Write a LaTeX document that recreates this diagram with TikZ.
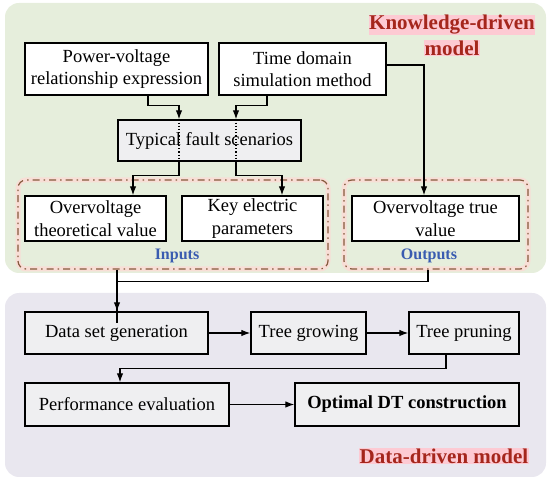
\documentclass[tikz,border=0pt]{standalone}
\usepackage{fontspec}
\setmainfont{Liberation Serif}
\usetikzlibrary{arrows.meta}

\definecolor{kgreen}{HTML}{E6EEDC}
\definecolor{dpurple}{HTML}{E9E7EF}
\definecolor{boxgrey}{HTML}{EFEFF1}
\definecolor{fbrown}{HTML}{85593C}
\definecolor{fpink}{HTML}{F8DED6}
\definecolor{tred}{HTML}{A5261C}
\definecolor{hpink}{HTML}{FDCAD3}
\definecolor{tblue}{HTML}{3A5CB0}

\tikzset{
  blk/.style={draw=black, line width=1.3pt, fill=white, inner sep=1pt,
    align=center, font=\fontsize{18.5}{22.5}\selectfont},
  frm/.style={draw=fbrown, line width=1.2pt, rounded corners=8pt,
    dash pattern=on 7pt off 4pt on 1.5pt off 4pt,
    preaction={draw=fpink, solid, line width=5pt}},
  arr/.style={-{Latex[length=9pt,width=6.5pt]}, line width=1.2pt},
  ln/.style={line width=1.2pt},
  hdr/.style={fill=hpink, text=tred, inner sep=0.5pt,
    font=\fontsize{21}{22}\selectfont\bfseries},
  tag/.style={text=tblue, font=\fontsize{16}{18}\selectfont\bfseries}
}

\begin{document}
\begin{tikzpicture}[x=1pt, y=-1pt]
    \useasboundingbox (0,0) rectangle (550,481);

    % 两个背景区域
    \fill[kgreen, rounded corners=14pt] (5,3) rectangle (546,273);
    \fill[dpurple, rounded corners=14pt] (5,293) rectangle (546,477);

    % 标题
    \node[hdr] (kdt) at (452,25) {Knowledge-driven};
    \node[hdr] (kdm) at (452,48) {model};
    \node[hdr] (ddm) at (444,456) {Data-driven model};

    % 输入输出虚线框
    \node[frm, minimum width=310, minimum height=89] (inbox) at (173,224.5) {};
    \node[frm, minimum width=184, minimum height=89] (outbox) at (436,224.5) {};
    \node[tag] (intag) at (177,256) {Inputs};
    \node[tag] (outtag) at (429,256) {Outputs};

    % 知识驱动部分的方框
    \node[blk, minimum width=183, minimum height=52] (pv) at (116.5,69)
        {Power-voltage\\relationship expression};
    \node[blk, minimum width=167, minimum height=52] (td) at (302.5,69)
        {Time domain\\simulation method};
    \node[blk, fill=boxgrey, minimum width=183, minimum height=41] (tfs) at (209.5,140.5)
        {Typical fault scenarios};
    \node[blk, minimum width=141, minimum height=45] (otv) at (95.5,218.5)
        {Overvoltage\\theoretical value};
    \node[blk, minimum width=141, minimum height=45] (kep) at (252.5,218.5)
        {Key electric\\parameters};
    \node[blk, minimum width=167, minimum height=45] (ovt) at (435.5,218.5)
        {Overvoltage true\\value};

    % 数据驱动部分的方框
    \node[blk, fill=boxgrey, minimum width=183, minimum height=42] (dsg) at (116.5,333)
        {Data set generation};
    \node[blk, fill=boxgrey, minimum width=115, minimum height=42] (tg) at (308.5,333)
        {Tree growing};
    \node[blk, fill=boxgrey, minimum width=110, minimum height=42] (tp) at (464,333)
        {Tree pruning};
    \node[blk, fill=boxgrey, minimum width=204, minimum height=43] (pe) at (127,404.5)
        {Performance evaluation};
    \node[blk, fill=boxgrey, minimum width=224, minimum height=43] (odt) at (407,404.5)
        {\bfseries Optimal DT construction};

    % 连线
    \draw[arr] ([xshift=31.5]pv.south) -- ++(0,10) -| ([xshift=-30.5]tfs.north);
    \draw[arr] ([xshift=-35.5]td.south) -- ++(0,10) -| ([xshift=26.5]tfs.north);
    \draw[ln, dotted] ([xshift=-30.5]tfs.north) -- ([xshift=-30.5]tfs.south);
    \draw[ln, dotted] ([xshift=26.5]tfs.north) -- ([xshift=26.5]tfs.south);
    \draw[arr] ([xshift=-30.5]tfs.south) -- ++(0,14) -| ([xshift=37.5]otv.north);
    \draw[arr] ([xshift=26.5]tfs.south) -- ++(0,14) -| ([xshift=29.5]kep.north);
    \draw[arr] ([yshift=4]td.east) -| ([xshift=-11.5]ovt.north);

    \draw[arr] ([xshift=-56]inbox.south) -- ([xshift=0.5]dsg.north);
    \draw[ln] ([xshift=-8]outbox.south) -- ++(0,12) -| ([xshift=0.5,yshift=-12]dsg.north);

    \draw[arr] (dsg) -- (tg);
    \draw[arr] (tg) -- (tp);
    \draw[arr] ([xshift=-18]tp.south) -- ++(0,14) -| ([xshift=-7]pe.north);
    \draw[arr] (pe) -- (odt);
\end{tikzpicture}
\end{document}
